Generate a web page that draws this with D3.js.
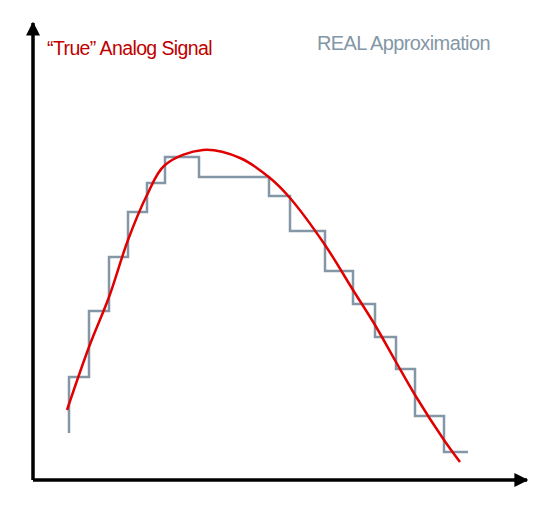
<!DOCTYPE html>
<html><head><meta charset="utf-8">
<script src="https://cdn.jsdelivr.net/npm/d3@7"></script>
<style>body{margin:0;background:#fff}</style></head>
<body><svg id="c" width="540" height="508"></svg>
<script>
// analog signal samples (time, amplitude)
const analogT = [34,56,76,95,114,132,170,207,237,257,292,320,342,363,382,411,427];
const analogV = [70,133,183,240,285,315,330,322,302,282,235,190,155,118,85,40,18];
// digital sample-and-hold approximation
const stepT = [36,36,56,76,95,114,132,166,236,257,292,320,342,363,382,411,435];
const stepV = [47,103,169,223,268,297,323,303,284,249,209,176,143,111,64,28,28];
const labels = ["“True” Analog Signal","REAL Approximation"];

const svg = d3.select("#c");
const x = d3.scaleLinear().domain([0,494]).range([33,527]);
const y = d3.scaleLinear().domain([0,457]).range([480,23]);

const defs = svg.append("defs");
defs.append("marker").attr("id","arr").attr("viewBox","0 0 10 10").attr("refX",9).attr("refY",5)
  .attr("markerWidth",4).attr("markerHeight",4).attr("orient","auto").attr("markerUnits","strokeWidth")
  .append("path").attr("d","M0,0L10,5L0,10Z").attr("fill","#000");

svg.append("path").attr("d",`M${x(0)},${y(0)}L${x(0)},${y(457)}`).attr("stroke","#000").attr("stroke-width",3.5).attr("fill","none").attr("marker-end","url(#arr)");
svg.append("path").attr("d",`M${x(0)},${y(0)}L${x(494)},${y(0)}`).attr("stroke","#000").attr("stroke-width",3.5).attr("fill","none").attr("marker-end","url(#arr)");

const stepLine = d3.line().x(d=>x(d[0])).y(d=>y(d[1])).curve(d3.curveStepAfter);
svg.append("path").attr("d",stepLine(stepT.map((t,i)=>[t,stepV[i]])))
  .attr("fill","none").attr("stroke","#8497a6").attr("stroke-width",2.5);

const curve = d3.line().x(d=>x(d[0])).y(d=>y(d[1])).curve(d3.curveCatmullRom);
svg.append("path").attr("d",curve(analogT.map((t,i)=>[t,analogV[i]])))
  .attr("fill","none").attr("stroke","#e00000").attr("stroke-width",2.5);

svg.append("text").attr("x",47).attr("y",55).text(labels[0]).attr("fill","#c00000")
  .attr("font-family","Liberation Sans, Arial").attr("font-size",19.5).attr("letter-spacing",-0.6);
svg.append("text").attr("x",317).attr("y",50).text(labels[1]).attr("fill","#8497a6")
  .attr("font-family","Liberation Sans, Arial").attr("font-size",20).attr("letter-spacing",-0.6);
</script></body></html>
